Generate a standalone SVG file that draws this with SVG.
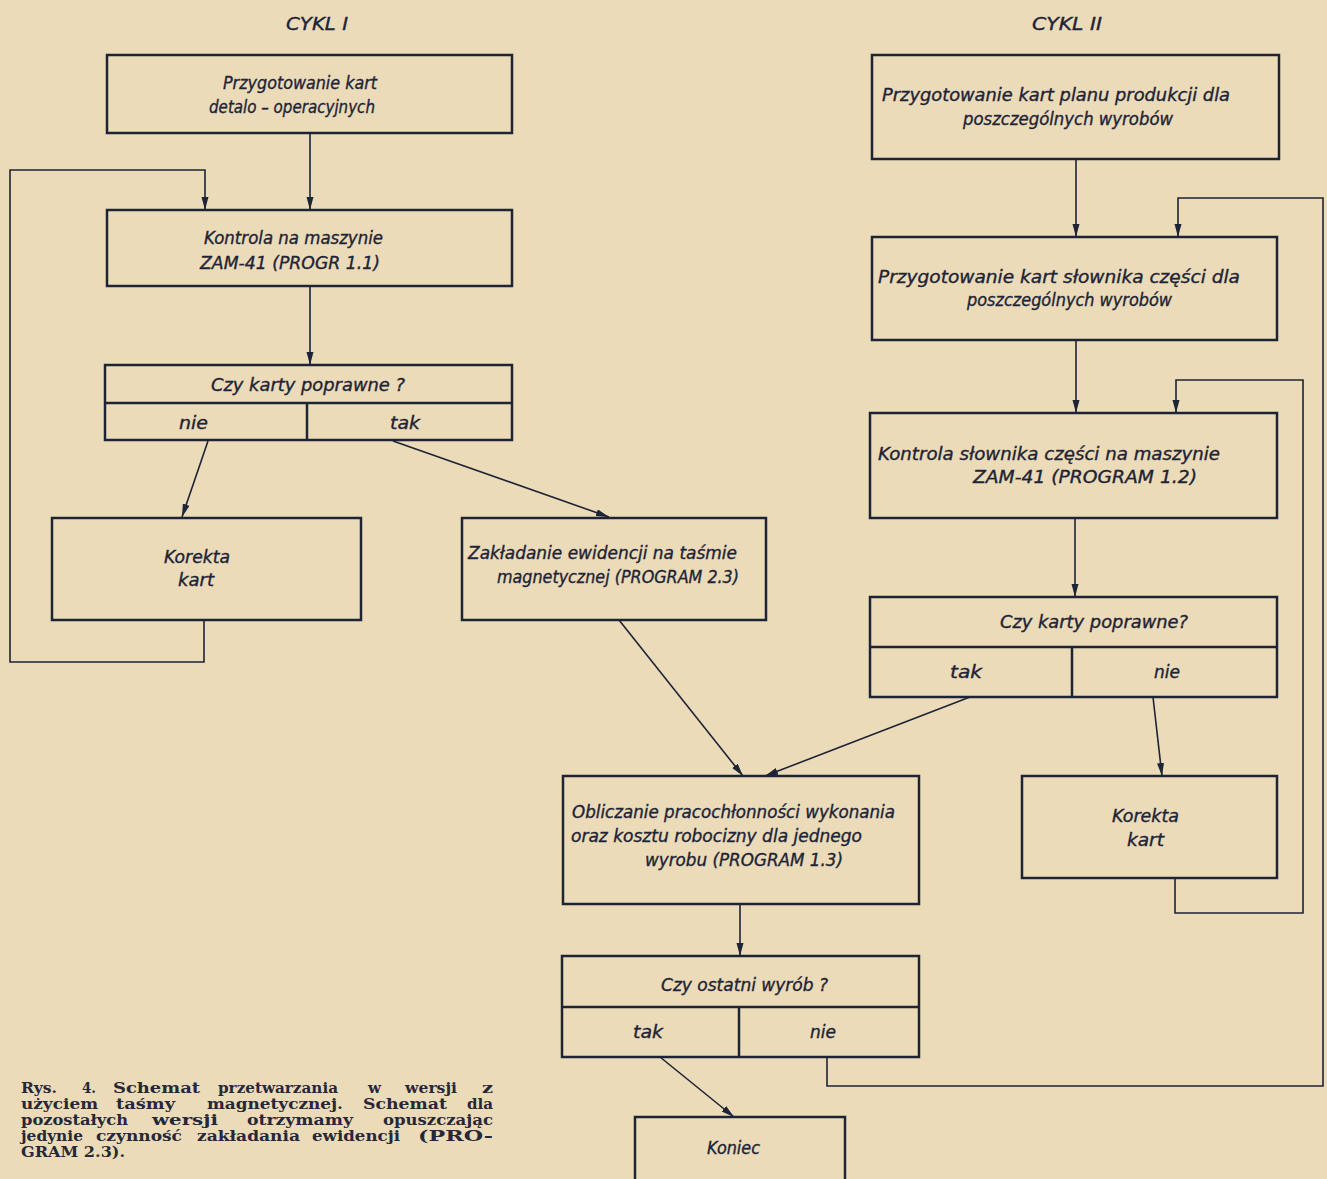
<svg xmlns="http://www.w3.org/2000/svg" width="1327" height="1179" viewBox="0 0 1327 1179">
<defs>
<style>
.box{fill:none;stroke:#1d2436;stroke-width:2.5}
.ln{fill:none;stroke:#1d2436;stroke-width:1.6}
.arr{marker-end:url(#ah)}
.t{font-family:"DejaVu Sans Condensed","DejaVu Sans",sans-serif;font-style:italic;font-size:18.5px;fill:#1d2436;stroke:#1d2436;stroke-width:0.35}
.c{font-family:"DejaVu Serif","Liberation Serif",serif;font-weight:bold;font-size:14px;fill:#262838}
</style>
<marker id="ah" markerUnits="userSpaceOnUse" markerWidth="14" markerHeight="8" refX="13" refY="3.5" orient="auto">
<path d="M0,0 L13,3.5 L0,7 Z" fill="#1d2436"/>
</marker>
</defs>
<rect x="0" y="0" width="1327" height="1179" fill="#ecdbb9"/>

<text class="t" x="286" y="30" textLength="62" lengthAdjust="spacingAndGlyphs">CYKL I</text>
<text class="t" x="1032" y="30" textLength="70" lengthAdjust="spacingAndGlyphs">CYKL II</text>

<g id="connectors">
<path class="ln arr" d="M310,133 V210"/>
<path class="ln arr" d="M310,286 V365"/>
<path class="ln arr" d="M208,441 L182,517"/>
<path class="ln arr" d="M393,441 L609,517"/>
<path class="ln arr" d="M204,620 V662 H10 V170 H205 V210"/>
<path class="ln arr" d="M619,620 L743,776"/>
<path class="ln arr" d="M1076,159 V237"/>
<path class="ln arr" d="M1076,340 V413"/>
<path class="ln arr" d="M1075,518 V597"/>
<path class="ln arr" d="M970,697 L765,776"/>
<path class="ln arr" d="M1153,697 L1162,776"/>
<path class="ln arr" d="M1175,878 V913 H1303 V380 H1176 V413"/>
<path class="ln arr" d="M740,904 V956"/>
<path class="ln arr" d="M660,1057 L734,1117"/>
<path class="ln arr" d="M827,1057 V1086 H1323 V198 H1178 V237"/>
</g>

<g id="prep1">
<rect class="box" x="107" y="55" width="405" height="78"/>
<text class="t" x="223" y="89" textLength="154" lengthAdjust="spacingAndGlyphs">Przygotowanie kart</text>
<text class="t" x="209" y="113" textLength="166" lengthAdjust="spacingAndGlyphs">detalo – operacyjnych</text>
</g>

<g id="kontrola1">
<rect class="box" x="107" y="210" width="405" height="76"/>
<text class="t" x="204" y="244" textLength="179" lengthAdjust="spacingAndGlyphs">Kontrola na maszynie</text>
<text class="t" x="200" y="269" textLength="180" lengthAdjust="spacingAndGlyphs">ZAM-41 (PROGR 1.1)</text>
</g>

<g id="decyzja1">
<rect class="box" x="105" y="365" width="407" height="75"/>
<path class="box" d="M105,403 H512 M307,403 V440"/>
<text class="t" x="211" y="391" textLength="194" lengthAdjust="spacingAndGlyphs">Czy karty poprawne ?</text>
<text class="t" x="179" y="429" textLength="29" lengthAdjust="spacingAndGlyphs">nie</text>
<text class="t" x="390" y="429" textLength="30" lengthAdjust="spacingAndGlyphs">tak</text>
</g>

<g id="korekta1">
<rect class="box" x="52" y="518" width="309" height="102"/>
<text class="t" x="164" y="563" textLength="66" lengthAdjust="spacingAndGlyphs">Korekta</text>
<text class="t" x="178" y="586" textLength="36" lengthAdjust="spacingAndGlyphs">kart</text>
</g>

<g id="zakladanie">
<rect class="box" x="462" y="518" width="304" height="102"/>
<text class="t" x="468" y="559" textLength="269" lengthAdjust="spacingAndGlyphs">Zakładanie ewidencji na taśmie</text>
<text class="t" x="497" y="583" textLength="242" lengthAdjust="spacingAndGlyphs">magnetycznej (PROGRAM 2.3)</text>
</g>

<g id="prep2">
<rect class="box" x="872" y="55" width="407" height="104"/>
<text class="t" x="882" y="101" textLength="348" lengthAdjust="spacingAndGlyphs">Przygotowanie kart planu produkcji dla</text>
<text class="t" x="963" y="125" textLength="210" lengthAdjust="spacingAndGlyphs">poszczególnych wyrobów</text>
</g>

<g id="slownik">
<rect class="box" x="872" y="237" width="405" height="103"/>
<text class="t" x="878" y="283" textLength="362" lengthAdjust="spacingAndGlyphs">Przygotowanie kart słownika części dla</text>
<text class="t" x="967" y="306" textLength="205" lengthAdjust="spacingAndGlyphs">poszczególnych wyrobów</text>
</g>

<g id="kontrola2">
<rect class="box" x="870" y="413" width="407" height="105"/>
<text class="t" x="878" y="460" textLength="342" lengthAdjust="spacingAndGlyphs">Kontrola słownika części na maszynie</text>
<text class="t" x="973" y="483" textLength="224" lengthAdjust="spacingAndGlyphs">ZAM-41 (PROGRAM 1.2)</text>
</g>

<g id="decyzja2">
<rect class="box" x="870" y="597" width="407" height="100"/>
<path class="box" d="M870,647 H1277 M1072,647 V697"/>
<text class="t" x="1000" y="628" textLength="188" lengthAdjust="spacingAndGlyphs">Czy karty poprawne?</text>
<text class="t" x="950" y="678" textLength="32" lengthAdjust="spacingAndGlyphs">tak</text>
<text class="t" x="1154" y="678" textLength="26" lengthAdjust="spacingAndGlyphs">nie</text>
</g>

<g id="korekta2">
<rect class="box" x="1022" y="776" width="255" height="102"/>
<text class="t" x="1112" y="822" textLength="67" lengthAdjust="spacingAndGlyphs">Korekta</text>
<text class="t" x="1127" y="846" textLength="37" lengthAdjust="spacingAndGlyphs">kart</text>
</g>

<g id="obliczanie">
<rect class="box" x="563" y="776" width="356" height="128"/>
<text class="t" x="572" y="818" textLength="323" lengthAdjust="spacingAndGlyphs">Obliczanie pracochłonności wykonania</text>
<text class="t" x="571" y="842" textLength="291" lengthAdjust="spacingAndGlyphs">oraz kosztu robocizny dla jednego</text>
<text class="t" x="645" y="866" textLength="198" lengthAdjust="spacingAndGlyphs">wyrobu (PROGRAM 1.3)</text>
</g>

<g id="decyzja3">
<rect class="box" x="562" y="956" width="357" height="101"/>
<path class="box" d="M562,1007 H919 M739,1007 V1057"/>
<text class="t" x="661" y="991" textLength="167" lengthAdjust="spacingAndGlyphs">Czy ostatni wyrób ?</text>
<text class="t" x="633" y="1038" textLength="30" lengthAdjust="spacingAndGlyphs">tak</text>
<text class="t" x="810" y="1038" textLength="26" lengthAdjust="spacingAndGlyphs">nie</text>
</g>

<g id="koniec">
<rect class="box" x="635" y="1117" width="210" height="80"/>
<text class="t" x="707" y="1154" textLength="53" lengthAdjust="spacingAndGlyphs">Koniec</text>
</g>

<g id="caption">
<text class="c" x="21" y="1093" textLength="36" lengthAdjust="spacingAndGlyphs">Rys.</text>
<text class="c" x="82" y="1093" textLength="14" lengthAdjust="spacingAndGlyphs">4.</text>
<text class="c" x="113" y="1093" textLength="87" lengthAdjust="spacingAndGlyphs">Schemat</text>
<text class="c" x="218" y="1093" textLength="120" lengthAdjust="spacingAndGlyphs">przetwarzania</text>
<text class="c" x="368" y="1093" textLength="13" lengthAdjust="spacingAndGlyphs">w</text>
<text class="c" x="405" y="1093" textLength="52" lengthAdjust="spacingAndGlyphs">wersji</text>
<text class="c" x="482" y="1093" textLength="11" lengthAdjust="spacingAndGlyphs">z</text>
<text class="c" x="21" y="1109" textLength="77" lengthAdjust="spacingAndGlyphs">użyciem</text>
<text class="c" x="116" y="1109" textLength="59" lengthAdjust="spacingAndGlyphs">taśmy</text>
<text class="c" x="207" y="1109" textLength="136" lengthAdjust="spacingAndGlyphs">magnetycznej.</text>
<text class="c" x="363" y="1109" textLength="84" lengthAdjust="spacingAndGlyphs">Schemat</text>
<text class="c" x="467" y="1109" textLength="26" lengthAdjust="spacingAndGlyphs">dla</text>
<text class="c" x="21" y="1125" textLength="107" lengthAdjust="spacingAndGlyphs">pozostałych</text>
<text class="c" x="152" y="1125" textLength="66" lengthAdjust="spacingAndGlyphs">wersji</text>
<text class="c" x="247" y="1125" textLength="106" lengthAdjust="spacingAndGlyphs">otrzymamy</text>
<text class="c" x="383" y="1125" textLength="110" lengthAdjust="spacingAndGlyphs">opuszczając</text>
<text class="c" x="21" y="1141" textLength="62" lengthAdjust="spacingAndGlyphs">jedynie</text>
<text class="c" x="96" y="1141" textLength="86" lengthAdjust="spacingAndGlyphs">czynność</text>
<text class="c" x="197" y="1141" textLength="103" lengthAdjust="spacingAndGlyphs">zakładania</text>
<text class="c" x="312" y="1141" textLength="88" lengthAdjust="spacingAndGlyphs">ewidencji</text>
<text class="c" x="418" y="1141" textLength="75" lengthAdjust="spacingAndGlyphs">(PRO-</text>
<text class="c" x="21" y="1157" textLength="104" lengthAdjust="spacingAndGlyphs">GRAM 2.3).</text>
</g>
</svg>
